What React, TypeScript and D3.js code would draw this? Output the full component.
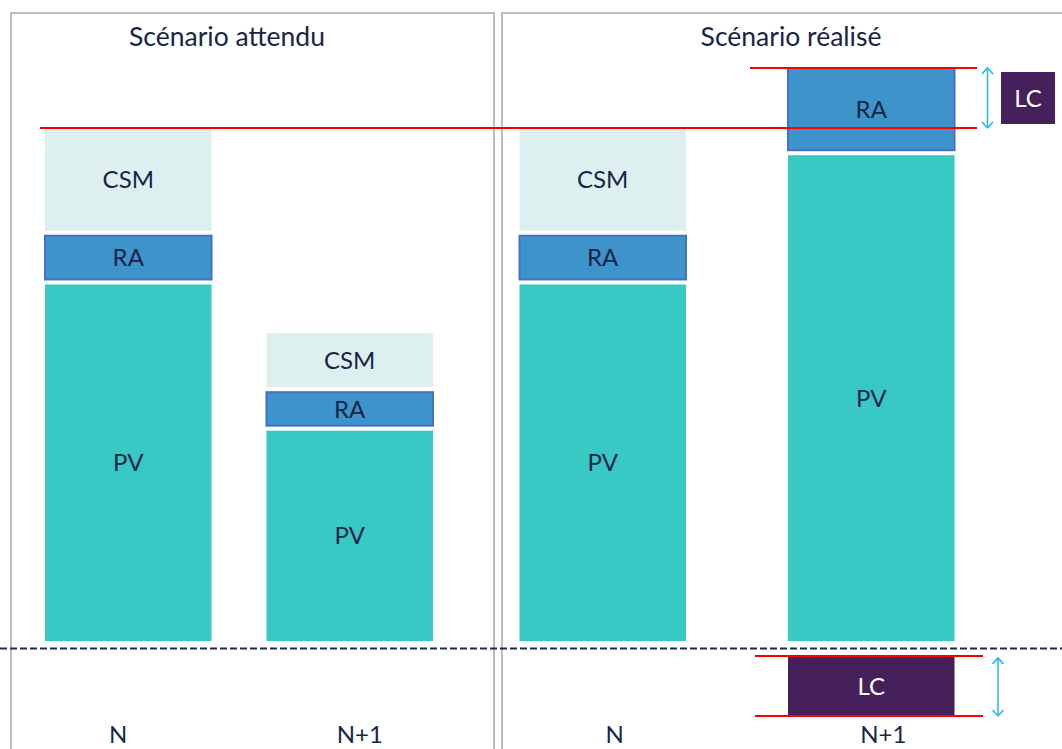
import React from "react";
import * as d3 from "d3";

// Categories and stacked components (same units on every bar)
const CATEGORIES = ["N", "N+1"];
const SEGMENT_KEYS = ["PV", "RA", "CSM"];

// Expected scenario
const EXPECTED_PV = [69.5, 41];
const EXPECTED_RA = [9.5, 7.5];
const EXPECTED_CSM = [21, 11.5];

// Realised scenario
const REALISED_PV = [69.5, 94.7];
const REALISED_RA = [9.5, 17];
const REALISED_CSM = [21, 0];

const PANEL_TITLES = ["Scénario attendu", "Scénario réalisé"];

const W = 1062;
const H = 749;
const FONT = "Lato, 'Noto Sans', sans-serif";
const TEXT = "#172546";
const COLORS: Record<string, string> = {
  PV: "#38C9C4",
  RA: "#3E93CB",
  CSM: "#DDF0EF",
  LC: "#45205A",
};
const RED = "#FF0000";
const ARROW = "#29B4EE";
const GAP = 5;
const LABEL_SIZE = 24;

type Bar = { cat: string; values: Record<string, number> };

function buildBars(pv: number[], ra: number[], csm: number[]): Bar[] {
  return CATEGORIES.map((cat, i) => ({
    cat,
    values: { PV: pv[i], RA: ra[i], CSM: csm[i] },
  }));
}

const panels = [
  {
    title: PANEL_TITLES[0],
    titleX: 227,
    box: [11, 494],
    range: [45, 433] as [number, number],
    paddingInner: 0.248,
    labelDx: [-10, 10],
    bars: buildBars(EXPECTED_PV, EXPECTED_RA, EXPECTED_CSM),
  },
  {
    title: PANEL_TITLES[1],
    titleX: 791,
    box: [502, 1075],
    range: [519.5, 954.5] as [number, number],
    paddingInner: 0.38,
    labelDx: [12, 12],
    bars: buildBars(REALISED_PV, REALISED_RA, REALISED_CSM),
  },
];

const y = d3.scaleLinear().domain([0, 100]).range([641, 128]);

const total = (b: Bar) => SEGMENT_KEYS.reduce((s, k) => s + b.values[k], 0);
const expectedTotalN = total(panels[0].bars[0]);
const realisedTotalN1 = total(panels[1].bars[1]);
const LC = realisedTotalN1 - expectedTotalN;
const LC_BELOW_OFFSET = 2.9;

function Arrow({ x, y1, y2 }: { x: number; y1: number; y2: number }) {
  const hw = 5.5;
  const hh = 6;
  return (
    <g stroke={ARROW} strokeWidth={1.5} fill="none">
      <line x1={x} x2={x} y1={y1} y2={y2} />
      <path d={`M${x - hw},${y1 + hh} L${x},${y1} L${x + hw},${y1 + hh}`} />
      <path d={`M${x - hw},${y2 - hh} L${x},${y2} L${x + hw},${y2 - hh}`} />
    </g>
  );
}

export default function App() {
  const stack = d3.stack<Bar>().keys(SEGMENT_KEYS).value((d, k) => d.values[k]);
  const realisedX = d3
    .scaleBand<string>()
    .domain(CATEGORIES)
    .range(panels[1].range)
    .paddingInner(panels[1].paddingInner)
    .paddingOuter(0);
  const lcBarX0 = realisedX("N+1")!;
  const lcBarX1 = lcBarX0 + realisedX.bandwidth();
  const yLcTop = y(-LC_BELOW_OFFSET);
  const yLcBottom = y(-LC_BELOW_OFFSET - LC);
  const yExpTop = y(expectedTotalN);
  const yRealTop = y(realisedTotalN1);

  return (
    <svg
      width={W}
      height={H}
      style={{ position: "absolute", left: 0, top: 0, display: "block", background: "#fff" }}
      fontFamily={FONT}
    >
      {panels.map((p, pi) => {
        const x = d3
          .scaleBand<string>()
          .domain(CATEGORIES)
          .range(p.range)
          .paddingInner(p.paddingInner)
          .paddingOuter(0);
        const series = stack(p.bars);
        return (
          <g key={pi}>
            <rect
              x={p.box[0]}
              y={13}
              width={p.box[1] - p.box[0]}
              height={H + 20}
              fill="none"
              stroke="#BFBFBF"
              strokeWidth={2}
            />
            <text x={p.titleX} y={46} textAnchor="middle" fontSize={26.5} fill={TEXT}>
              {p.title}
            </text>
            {series.map((s, si) =>
              s.map((d, bi) => {
                const v = d[1] - d[0];
                if (v <= 0) return null;
                const x0 = x(p.bars[bi].cat)!;
                const top = y(d[1]);
                const bottom = y(d[0]) - (si === 0 ? 0 : GAP);
                const key = s.key;
                return (
                  <g key={`${si}-${bi}`}>
                    <rect
                      x={x0}
                      y={top}
                      width={x.bandwidth()}
                      height={bottom - top}
                      fill={COLORS[key]}
                      stroke={key === "RA" ? "#4472C4" : "none"}
                      strokeWidth={key === "RA" ? 2 : 0}
                    />
                    <text
                      x={x0 + x.bandwidth() / 2}
                      y={(top + bottom) / 2}
                      dy="0.36em"
                      textAnchor="middle"
                      fontSize={LABEL_SIZE}
                      fill={TEXT}
                    >
                      {key}
                    </text>
                  </g>
                );
              })
            )}
            {CATEGORIES.map((c, ci) => (
              <text
                key={c}
                x={x(c)! + x.bandwidth() / 2 + p.labelDx[ci]}
                y={743}
                textAnchor="middle"
                fontSize={LABEL_SIZE}
                fill={TEXT}
              >
                {c}
              </text>
            ))}
          </g>
        );
      })}

      {/* zero reference */}
      <line x1={0} x2={W} y1={648.5} y2={648.5} stroke="#1C2B4B" strokeWidth={2} strokeDasharray="7 3" />

      {/* loss component above: gap between realised N+1 and expected N */}
      <line x1={40} x2={977} y1={yExpTop} y2={yExpTop} stroke={RED} strokeWidth={2} />
      <line x1={750} x2={977} y1={yRealTop} y2={yRealTop} stroke={RED} strokeWidth={2} />
      <Arrow x={987.5} y1={yRealTop} y2={yExpTop} />
      <rect
        x={1001}
        y={(yRealTop + yExpTop) / 2 - 26}
        width={54}
        height={52}
        fill={COLORS.LC}
      />
      <text
        x={1028}
        y={(yRealTop + yExpTop) / 2}
        dy="0.36em"
        textAnchor="middle"
        fontSize={LABEL_SIZE}
        fill="#fff"
      >
        LC
      </text>

      {/* loss component below the axis */}
      <rect x={lcBarX0} y={yLcTop} width={lcBarX1 - lcBarX0} height={yLcBottom - yLcTop} fill={COLORS.LC} />
      <text
        x={(lcBarX0 + lcBarX1) / 2}
        y={(yLcTop + yLcBottom) / 2}
        dy="0.36em"
        textAnchor="middle"
        fontSize={LABEL_SIZE}
        fill="#fff"
      >
        LC
      </text>
      <line x1={755} x2={983} y1={yLcTop} y2={yLcTop} stroke={RED} strokeWidth={2} />
      <line x1={755} x2={983} y1={yLcBottom} y2={yLcBottom} stroke={RED} strokeWidth={2} />
      <Arrow x={998} y1={yLcTop + 2} y2={yLcBottom} />
    </svg>
  );
}
